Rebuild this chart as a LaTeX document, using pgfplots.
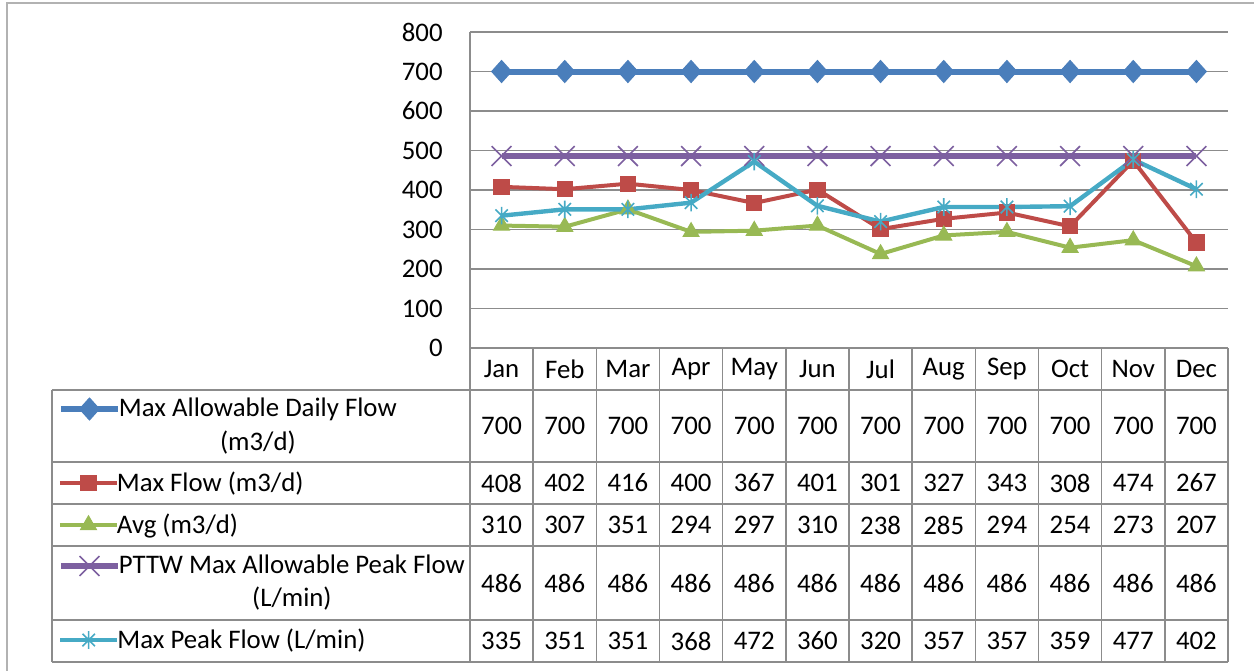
\documentclass[border=0pt]{standalone}
\usepackage{pgfplots}
\usepackage{pgfplotstable}
\pgfplotsset{compat=1.18}
\usetikzlibrary{calc}
\usepackage{fontspec}
\setmainfont{Carlito}
\definecolor{cblue}{HTML}{4A7EBB}
\definecolor{cred}{HTML}{BE4B48}
\definecolor{cgreen}{HTML}{98B954}
\definecolor{cpurple}{HTML}{7D60A0}
\definecolor{ccyan}{HTML}{46AAC5}
\definecolor{cgrid}{HTML}{8C8C8C}
\pgfdeclareplotmark{xstar}{%
  \pgfpathmoveto{\pgfqpoint{0pt}{\pgfplotmarksize}}%
  \pgfpathlineto{\pgfqpoint{0pt}{-\pgfplotmarksize}}%
  \pgfpathmoveto{\pgfqpoint{-.7071\pgfplotmarksize}{-.7071\pgfplotmarksize}}%
  \pgfpathlineto{\pgfqpoint{.7071\pgfplotmarksize}{.7071\pgfplotmarksize}}%
  \pgfpathmoveto{\pgfqpoint{-.7071\pgfplotmarksize}{.7071\pgfplotmarksize}}%
  \pgfpathlineto{\pgfqpoint{.7071\pgfplotmarksize}{-.7071\pgfplotmarksize}}%
  \pgfusepathqstroke}
\pgfplotstableread{
m A B C D E
1 700 408 310 486 335
2 700 402 307 486 351
3 700 416 351 486 351
4 700 400 294 486 368
5 700 367 297 486 472
6 700 401 310 486 360
7 700 301 238 486 320
8 700 327 285 486 357
9 700 343 294 486 357
10 700 308 254 486 359
11 700 474 273 486 477
12 700 267 207 486 402
}\data
\newcommand{\fs}{\fontsize{13.4}{16.5}\selectfont}
\tikzset{
  sA/.style={cblue, line width=3pt, mark=diamond*, mark size=5.5pt, mark options={xscale=1.2, line width=0.5pt}},
  sB/.style={cred, line width=2pt, mark=square*, mark size=3.8pt, mark options={line width=0.5pt}},
  sC/.style={cgreen, line width=2pt, mark=triangle*, mark size=4.6pt, mark options={line width=0.5pt}},
  sD/.style={cpurple, line width=3pt, mark=x, mark size=7pt, mark options={line width=0.8pt}},
  sE/.style={ccyan, line width=2.2pt, mark=xstar, mark size=4.4pt, mark options={line width=0.8pt}},
}
\pgfplotsset{
  keyax/.style={at={(0,0)}, anchor=south west, scale only axis, width=379pt, height=158pt,
    hide axis, xmin=0, xmax=1, ymin=0, ymax=1,
    legend image code/.code={\draw[mark repeat=2, mark phase=2, ##1] plot coordinates {(0pt,0pt) (14.25pt,0pt) (28.5pt,0pt)};},
    legend cell align=left,
    legend style={at={(rel axis cs:0,0)}, anchor=west, xshift=-206pt, yshift=#1,
      draw=none, fill=none, inner sep=0pt, outer sep=0pt, column sep=-3pt, font=\fs}},
}
\newcommand{\keyentry}[3]{%
  \begin{axis}[keyax=#1]
  \addlegendimage{#2}
  \addlegendentry{#3}
  \end{axis}}
\newlength{\wA}\newlength{\wD}
\begin{document}%
\settowidth{\wA}{\fs Max Allowable Daily Flow}%
\settowidth{\wD}{\fs PTTW Max Allowable Peak Flow}%
\begin{tikzpicture}[font=\fs]
% outer border
\draw[gray!60, line width=0.6pt] (-231.5pt,-170pt) -- (-231.5pt,172.5pt) -- (400pt,172.5pt);
\begin{axis}[
  at={(0,0)}, anchor=south west,
  scale only axis, width=379pt, height=158pt,
  xmin=0.5, xmax=12.5, ymin=0, ymax=800,
  ytick={0,100,...,800}, xtick=\empty,
  ymajorgrids, grid style={cgrid, line width=0.6pt},
  major tick length=0pt,
  axis line style={cgrid, line width=0.6pt},
  axis x line*=bottom, axis y line*=left,
  yticklabel style={anchor=east, inner sep=0pt, xshift=-13.5pt, font=\fs},
  /pgf/number format/assume math mode=true,
  clip=false,
]
\addplot[sA] table[x=m, y=A] {\data};
\addplot[sB] table[x=m, y=B] {\data};
\addplot[sC] table[x=m, y=C] {\data};
\addplot[sD] table[x=m, y=D] {\data};
\addplot[sE] table[x=m, y=E] {\data};
\end{axis}
% legend keys of the data table
\keyentry{-30.5pt}{sA}{Max Allowable Daily Flow}
\keyentry{-67.5pt}{sB}{Max Flow (m3/d)}
\keyentry{-88.5pt}{sC}{Avg (m3/d)}
\keyentry{-109pt}{sD}{PTTW Max Allowable Peak Flow}
\keyentry{-146pt}{sE}{Max Peak Flow (L/min)}
\node[anchor=base, inner sep=0pt, font=\fs] at ($(-175.5pt,-51pt)+(0.5\wA,0)$) {(m3/d)};
\node[anchor=base, inner sep=0pt, font=\fs] at ($(-175.5pt,-129pt)+(0.5\wD,0)$) {(L/min)};
% data table grid
\begin{scope}[cgrid, line width=0.8pt]
\pgfmathsetmacro{\cw}{379/12}
\foreach \k in {0,...,12} {\draw (\k*\cw pt,0pt) -- (\k*\cw pt,-157pt);}
\draw (-209pt,-21pt) -- (-209pt,-157pt);
\foreach \yy in {-21,-57,-78,-99,-136,-157} {\draw (-209pt,\yy pt) -- (379pt,\yy pt);}
\end{scope}
\pgfmathsetmacro{\cw}{379/12}
\foreach \mn [count=\i] in {Jan,Feb,Mar,Apr,May,Jun,Jul,Aug,Sep,Oct,Nov,Dec} {
  \node[font=\fs, inner sep=0pt] at ({(\i-0.5)*\cw pt},-10.5pt) {\mn};
}
\foreach \col/\yc in {A/-39,B/-67.5,C/-88.5,D/-117.5,E/-146.5} {
  \foreach \r in {0,...,11} {
    \pgfplotstablegetelem{\r}{\col}\of\data
    \node[font=\fs, inner sep=0pt] at ({(\r+0.5)*\cw pt},\yc pt) {\pgfplotsretval};
  }
}
\pgfresetboundingbox
\useasboundingbox (-235pt,-161pt) rectangle (392pt,174pt);
\end{tikzpicture}%
\end{document}
